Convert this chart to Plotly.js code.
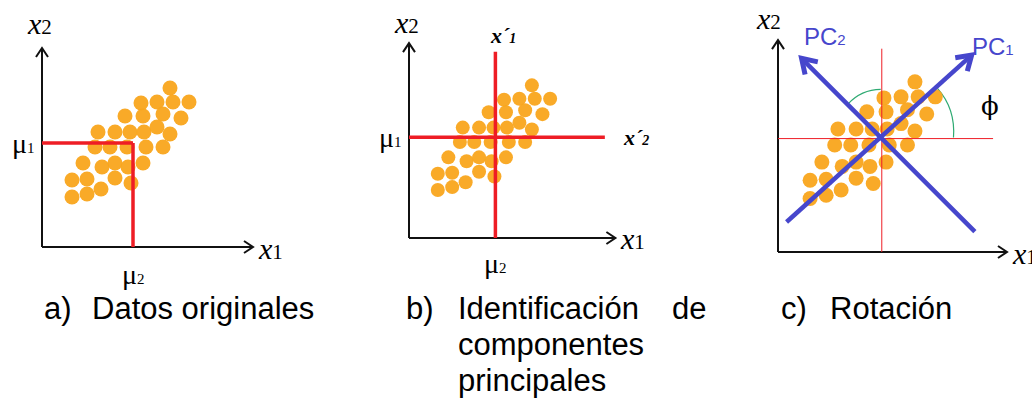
<!DOCTYPE html>
<html>
<head>
<meta charset="utf-8">
<script src="https://cdn.plot.ly/plotly-3.0.1.min.js"></script>
<style>body{margin:0;background:#fff}</style>
</head>
<body>
<div id="grafico" style="width:1032px;height:419px"></div>
<script>
const nubeX = [128, 99, 115, 131, 147, 83, 101, 121, 139, 56, 73, 88, 102, 115, 128,
               53, 68, 85, 104, 121, 41, 60, 73, 86, 101, 30, 45, 73, 89, 30, 45, 59];
const nubeY = [159, 144, 145, 145, 145, 131, 131, 133, 129, 115, 115, 115, 115, 120, 113,
               100, 100, 100, 100, 100, 84, 80, 84, 80, 84, 67, 68, 69, 64, 50, 53, 58];

// medias (mu2, mu1) marcadas en cada panel
const mediaX = [91, 90, 97];
const mediaY = [104, 105, 106];

// componentes principales del panel c (inicio, fin)
const pc1X = [8, 181], pc1Y = [28, 184];
const pc2X = [184, 22], pc2Y = [19, 181];

// textos
const rotulos = ['a)', 'b)', 'c)'];
const lineasTitulo = [['Datos originales'], ['Identificación', 'componentes', 'principales'], ['Rotación']];

const W = 1032, H = 419, ALTO = 300;
const serif = 'Liberation Serif, Times New Roman, serif';
const sans = 'Liberation Sans, Arial, sans-serif';
const rojo = '#ee1d25';
const naranja = '#f9a51c';
const azul = '#4646cc';

// ox, oy: cruce de ejes en pixeles; s: pixeles por unidad
const paneles = [
  {ox: 42, oy: 247, s: 1, izq: 0, der: 345, largoX: 211, largoY: 199, punto: 15},
  {ox: 409, oy: 238, s: 0.96, izq: 345, der: 690, largoX: 215, largoY: 203, punto: 14},
  {ox: 778, oy: 252, s: 1.07, izq: 690, der: 1032, largoX: 214, largoY: 198, punto: 15}
];

const linea = (xr, yr, x0, y0, x1, y1, color, ancho) => ({
  type: 'line', xref: xr, yref: yr, x0, y0, x1, y1, layer: 'above',
  line: {color, width: ancho}
});

// punta de flecha abierta tipo ">"
const punta = (xr, yr, s, tx, ty, dx, dy, largo, abre, color, ancho) => {
  const d = Math.hypot(dx, dy);
  const ux = dx / d, uy = dy / d;
  const bx = tx - ux * largo / s, by = ty - uy * largo / s;
  const nx = -uy * abre / s, ny = ux * abre / s;
  return {
    type: 'path', xref: xr, yref: yr, layer: 'above',
    path: `M${bx + nx},${by + ny} L${tx},${ty} L${bx - nx},${by - ny}`,
    line: {color, width: ancho}
  };
};

const texto = (xr, yr, x, y, t, tam, familia, extra) => Object.assign({
  xref: xr, yref: yr, x, y, text: t, showarrow: false,
  font: {family: familia, size: tam, color: '#000'}
}, extra || {});

const sub = (n, tam) => `<span style="font-size:${tam}px">${n}</span>`;

const data = [];
const shapes = [];
const annotations = [];
const layout = {
  width: W, height: H,
  margin: {l: 0, r: 0, t: 0, b: 0},
  paper_bgcolor: '#fff', plot_bgcolor: 'rgba(0,0,0,0)',
  showlegend: false
};

paneles.forEach((p, i) => {
  const n = i === 0 ? '' : String(i + 1);
  const xr = 'x' + n, yr = 'y' + n;
  layout['xaxis' + n] = {
    visible: false, fixedrange: true, anchor: yr,
    domain: [p.izq / W, p.der / W],
    range: [(p.izq - p.ox) / p.s, (p.der - p.ox) / p.s]
  };
  layout['yaxis' + n] = {
    visible: false, fixedrange: true, anchor: xr,
    domain: [1 - ALTO / H, 1],
    range: [(p.oy - ALTO) / p.s, p.oy / p.s]
  };

  data.push({
    type: 'scatter', mode: 'markers', x: nubeX, y: nubeY, xaxis: xr, yaxis: yr,
    cliponaxis: false, hoverinfo: 'skip',
    marker: {size: p.punto, color: naranja, opacity: 0.95, line: {width: 0}}
  });

  // ejes con flecha
  shapes.push(linea(xr, yr, 0, 0, 0, p.largoY, '#111', 2));
  shapes.push(linea(xr, yr, 0, 0, p.largoX, 0, '#111', 2));
  shapes.push(punta(xr, yr, p.s, 0, p.largoY, 0, 1, 9, 6, '#111', 2));
  shapes.push(punta(xr, yr, p.s, p.largoX, 0, 1, 0, 9, 6, '#111', 2));

  const mx = mediaX[i], my = mediaY[i];
  if (i === 0) {
    shapes.push(linea(xr, yr, 0, my, mx, my, rojo, 3.5));
    shapes.push(linea(xr, yr, mx, 0, mx, my, rojo, 3.5));
  } else if (i === 1) {
    shapes.push(linea(xr, yr, mx, 0, mx, 194, rojo, 3.5));
    shapes.push(linea(xr, yr, 0, my, 204, my, rojo, 3.5));
  } else {
    shapes.push(linea(xr, yr, 0, my, 201, my, rojo, 1));
    shapes.push(linea(xr, yr, mx, 0, mx, 190, rojo, 1));
    // arcos del angulo
    shapes.push({type: 'path', xref: xr, yref: yr, layer: 'below',
      path: `M${mx + 67},${my + 1} Q${mx + 69},${my + 28} ${mx + 52},${my + 47}`,
      line: {color: '#2eaa72', width: 1.2}});
    shapes.push({type: 'path', xref: xr, yref: yr, layer: 'below',
      path: `M${mx - 1},${my + 46} Q${mx - 19},${my + 46} ${mx - 32},${my + 32}`,
      line: {color: '#2eaa72', width: 1.2}});
    // PC1 y PC2
    shapes.push(linea(xr, yr, pc1X[0], pc1Y[0], pc1X[1], pc1Y[1], azul, 4.5));
    shapes.push(linea(xr, yr, pc2X[0], pc2Y[0], pc2X[1], pc2Y[1], azul, 4.5));
    shapes.push(punta(xr, yr, p.s, pc1X[1], pc1Y[1], pc1X[1] - pc1X[0], pc1Y[1] - pc1Y[0], 14, 9, azul, 5));
    shapes.push(punta(xr, yr, p.s, pc2X[1], pc2Y[1], pc2X[1] - pc2X[0], pc2Y[1] - pc2Y[0], 14, 9, azul, 5));
  }

  // nombres de ejes
  annotations.push(texto(xr, yr, (i === 2 ? -9 : -3), (i === 2 ? 218 : 224), '<i>x</i>' + sub(2, 21), 30, serif));
  annotations.push(texto(xr, yr, p.largoX + 3, -1, '<i>x</i>' + sub(1, 21), 30, serif, {xanchor: 'left'}));

  if (i < 2) {
    annotations.push(texto(xr, yr, -5, my, 'μ' + sub(1, 15), 28, serif, {xanchor: 'right'}));
    annotations.push(texto(xr, yr, mx, -27, 'μ' + sub(2, 15), 28, serif));
  }
  if (i === 1) {
    annotations.push(texto(xr, yr, 98, 211, '<b><i>x´' + sub(1, 14) + '</i></b>', 22, serif));
    annotations.push(texto(xr, yr, 236, my, '<b><i>x´' + sub(2, 14) + '</i></b>', 22, serif));
  }
  if (i === 2) {
    annotations.push(texto(xr, yr, 44, 201, 'PC' + sub(2, 15), 24, sans, {font: {family: sans, size: 24, color: azul}}));
    annotations.push(texto(xr, yr, 201, 192, 'PC' + sub(1, 15), 24, sans, {font: {family: sans, size: 24, color: azul}}));
    annotations.push(texto(xr, yr, 198, 136, 'ϕ', 26, 'DejaVu Serif, serif'));
  }
});

// pies de figura
const rotuloPx = [42, 404, 779];
const tituloPx = [90, 456, 828];
const centroLinea = [308, 344, 380];
const yPaper = c => 1 - c / H;
rotulos.forEach((r, i) => {
  annotations.push(texto('paper', 'paper', rotuloPx[i] / W, yPaper(centroLinea[0]), r, 31, sans, {xanchor: 'left', yanchor: 'middle'}));
  lineasTitulo[i].forEach((t, k) => {
    annotations.push(texto('paper', 'paper', tituloPx[i] / W, yPaper(centroLinea[k]), t, 31, sans, {xanchor: 'left', yanchor: 'middle'}));
  });
});
annotations.push(texto('paper', 'paper', 708 / W, yPaper(centroLinea[0]), 'de', 31, sans, {xanchor: 'right', yanchor: 'middle'}));

layout.shapes = shapes;
layout.annotations = annotations;

Plotly.newPlot('grafico', data, layout, {staticPlot: true, displayModeBar: false});
</script>
</body>
</html>
